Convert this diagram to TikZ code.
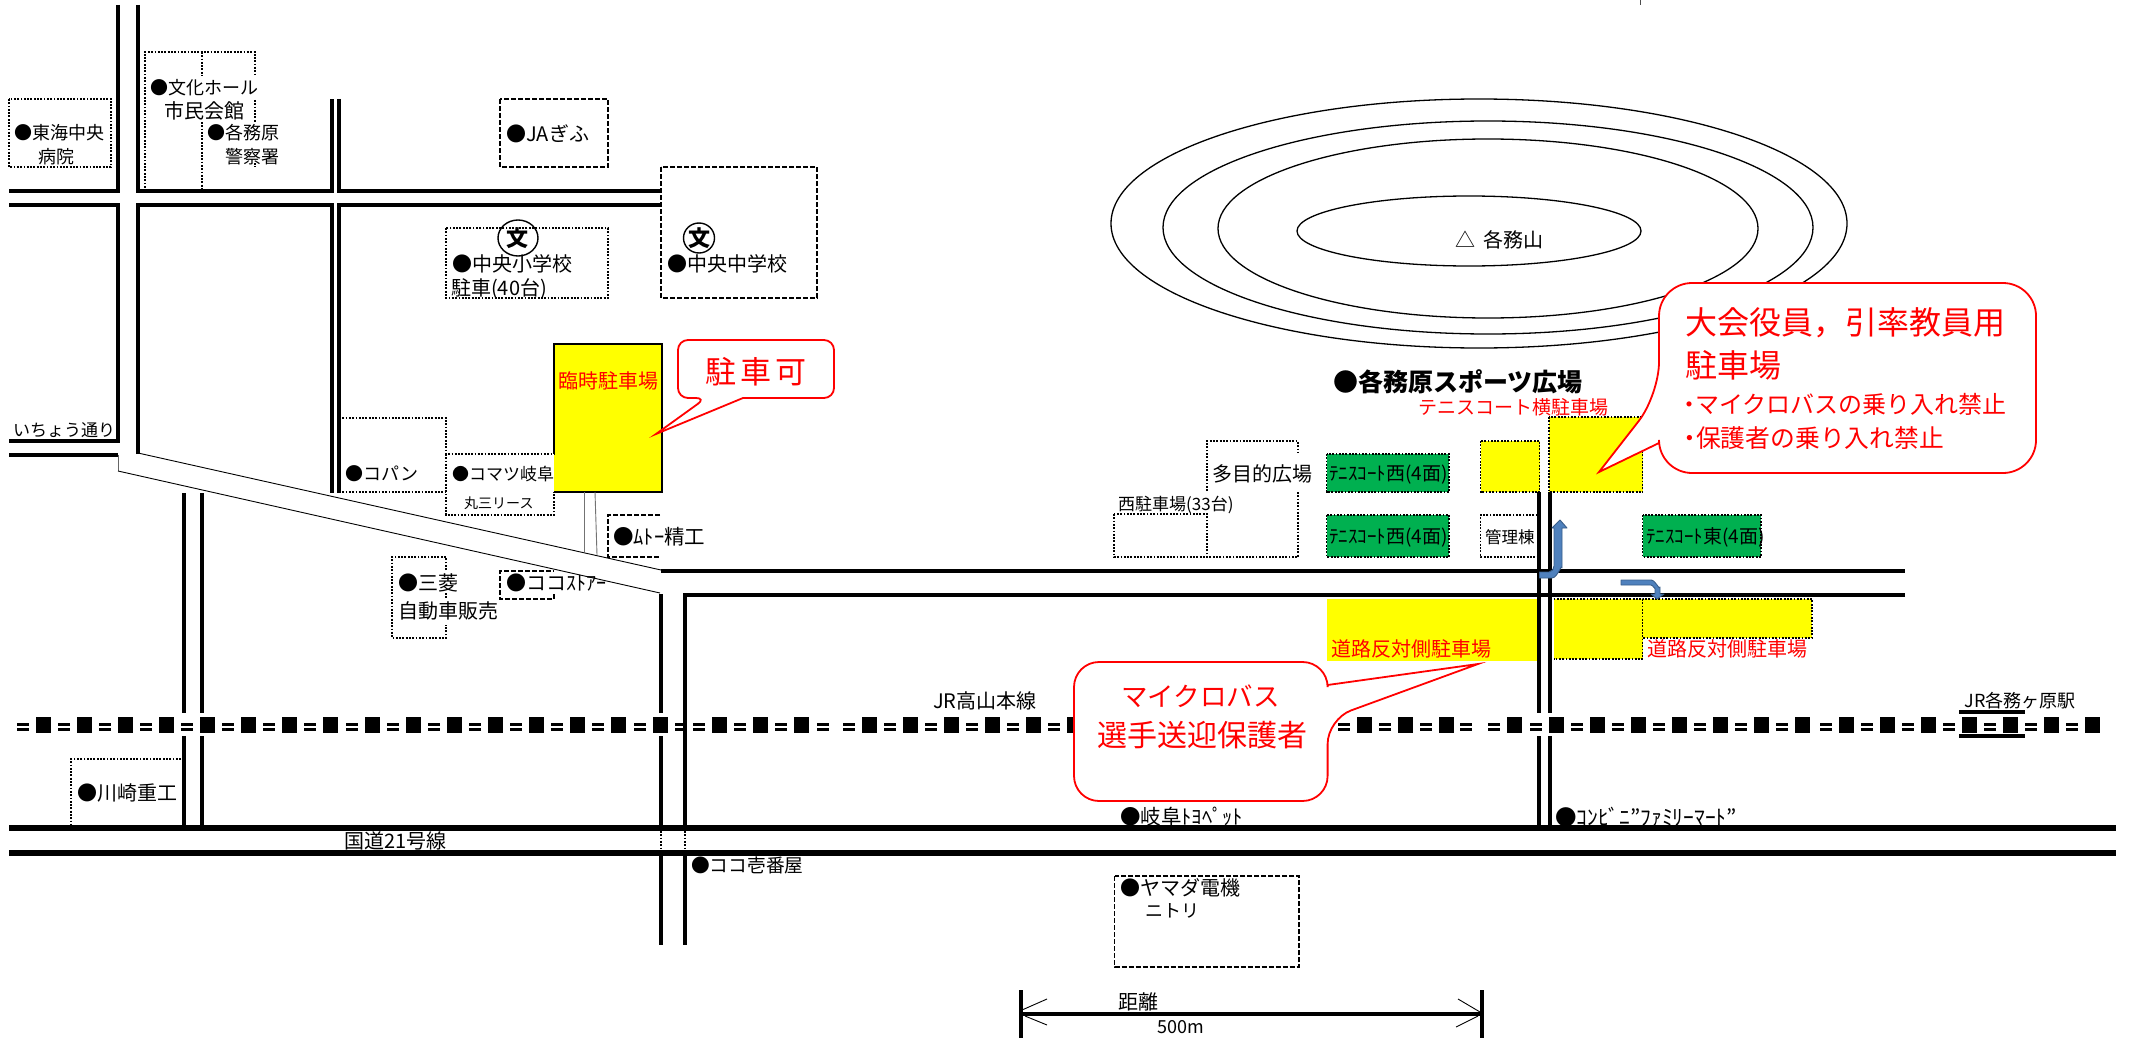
\documentclass[tikz,border=0pt]{standalone}
\usepackage{fontspec}
\setmainfont{Noto Sans CJK JP}
\definecolor{rd}{HTML}{FF0000}
\definecolor{yl}{HTML}{FFFF00}
\definecolor{gn}{HTML}{00B050}
\definecolor{bl}{HTML}{4F81BD}
\definecolor{bld}{HTML}{385D8A}
\tikzset{
  road/.style={line width=4pt,line cap=butt},
  bigroad/.style={line width=6pt},
  dot/.style={line width=1.6pt,dash pattern=on 1.8pt off 1.5pt},
  dsh/.style={line width=1.6pt,dash pattern=on 5pt off 2pt},
  thin1/.style={line width=0.9pt},
  hill/.style={line width=1.3pt},
  callout/.style={draw=rd,fill=white,line width=1.8pt},
  lab/.style={anchor=west,inner sep=0pt},
  fz/.style={font=\fontsize{#1}{#1}\selectfont,text height={0.88*#1 pt},text depth={0.12*#1 pt}},
  fzb/.style={font=\bfseries\fontsize{#1}{#1}\selectfont,text height={0.88*#1 pt},text depth={0.12*#1 pt}},
  red/.style={text=rd},
  blarrow/.style={fill=bl,draw=bld,line width=0.9pt}
}
\newcommand\TX[5][]{\node[lab,fz=#2,#1] (#3) at (#4) {#5};}
\begin{document}
\begin{tikzpicture}[x=1pt,y=-1pt]
\useasboundingbox (0,0) rectangle (2130,1038);
\fill[white] (0,0) rectangle (2130,1038);
% tick at top
\draw[thin1,black!70] (1640,0) -- (1640,5);
% hills
\draw[hill] (1479,223.5) ellipse [x radius=368,y radius=124.5];
\draw[hill] (1488,227.5) ellipse [x radius=325,y radius=106.5];
\draw[hill] (1488,228.5) ellipse [x radius=270,y radius=89.5];
\draw[hill] (1469,231) ellipse [x radius=172,y radius=35];
% yellow areas
\fill[yl] (554,344) rectangle (662,492);
\draw[line width=1.3pt] (554,454) -- (554,344) -- (662,344) -- (662,492) -- (554,492);
\fill[yl] (1549,417) rectangle (1642.6,492);
\draw[dot] (1549,417) rectangle (1642.6,492);
\fill[yl] (1480.5,441) rectangle (1539.5,492);
\draw[dot] (1480.5,441) rectangle (1539.5,492);
\fill[yl] (1326.5,599) rectangle (1539,661);
\fill[yl] (1553.5,599) rectangle (1642.6,659);
\draw[dot] (1553.5,599) -- (1642.6,599) -- (1642.6,659) -- (1553.5,659);
\fill[yl] (1642.6,599) rectangle (1812,638);
\draw[dot] (1642.6,599) rectangle (1812,638);
% green courts
\fill[gn] (1326.5,454) rectangle (1449,492);
\draw[dot] (1326.5,454) rectangle (1449,492);
\fill[gn] (1326.5,515) rectangle (1449,557);
\draw[dot] (1326.5,515) rectangle (1449,557);
\fill[gn] (1642.6,515) rectangle (1761,557);
\draw[dot] (1642.6,515) rectangle (1761,557);
% upper-left roads
\draw[road] (118,5) -- (118,191) -- (9,191);
\draw[road] (138,5) -- (138,191) -- (332,191) -- (332,99);
\draw[road] (339,99) -- (339,191) -- (661,191);
\draw[road] (9,205) -- (118,205) -- (118,443);
\draw[road] (9,441) -- (118,441);
\draw[road] (9,455) -- (118,455);
\draw[road] (138,454) -- (138,205) -- (332,205) -- (332,493);
\draw[road] (339,493) -- (339,205) -- (661,205);
% diagonal road
\draw[thin1,black!60] (118,455) -- (118,471);
\draw[thin1] (118,471) -- (660,593);
\draw[thin1] (138,453) -- (661,570);
\draw[thin1,black!55] (584,492) -- (584,552);
\draw[thin1,black!55] (595,492) -- (597,555);
% lower roads
\draw[road] (184,493) -- (184,713) (184,736) -- (184,825);
\draw[road] (202,493) -- (202,713) (202,736) -- (202,825);
\draw[road] (661,594) -- (661,713) (661,736) -- (661,825);
\draw[road] (1905,595) -- (685,595) -- (685,825);
\draw[road] (661,571) -- (1905,571);
\draw[dot] (661,831) -- (661,851) (685,831) -- (685,851);
\draw[road] (661,856) -- (661,945) (685,856) -- (685,945);
\draw[road] (1539,492) -- (1539,713) (1539,736) -- (1539,825);
\draw[road] (1550,492) -- (1550,713) (1550,736) -- (1550,825);
\draw[bigroad] (9,828) -- (2116,828);
\draw[bigroad] (9,853) -- (2116,853);
% railway
\foreach \x in {36,77,118,159,200,241,282,323,365,406,447,488,529,570,611,653,712,753,794,862,903,944,985,1026,1067,1314,1357,1398,1439,1507,1549,1590,1631,1672,1713,1754,1795,1839,1880,1921,1962,2003,2044,2085}{
  \fill (\x,717.3) rectangle ++(15,15.4);
  \fill (\x-19,723) rectangle ++(12,2.7);
  \fill (\x-19,728) rectangle ++(12,2.7);
}
\foreach \x in {675,817,1460}{
  \fill (\x,723) rectangle ++(12,2.7);
  \fill (\x,728) rectangle ++(12,2.7);
}
\draw[road] (1959,712) -- (2024.5,712) (1959,736) -- (2024.5,736);
% building outlines
\draw[dot] (9,99) rectangle (111,167);
\draw[dot] (145,191) -- (145,52) -- (255,52) -- (255,76);
\draw[dot] (202,52) -- (202,76) (202,122) -- (202,191);
\draw[dot] (255,100) -- (255,122) (255,163) -- (255,167);
\draw[dsh] (500,99) rectangle (608,167);
\draw[dot] (446,228) rectangle (608,298);
\draw[dsh] (661,167) rectangle (817,298);
\draw[dot] (339,418) -- (446,418) -- (446,454) -- (554,454);
\draw[dot] (339,492) -- (446,492);
\draw[dot] (446,454) -- (446,515) -- (554,515) -- (554,492);
\draw[dsh] (660,515) -- (608,515) -- (608,557) -- (660,557);
\draw[dot] (446,570) -- (446,557) -- (392,557) -- (392,638) -- (446,638) -- (446,625);
\draw[dot] (446,593) -- (446,598);
\draw[dsh] (554,594) -- (554,599) -- (500,599) -- (500,571) -- (554,571);
\draw[dot] (181,759) -- (71,759) -- (71,825);
\draw[dot] (1207,491) -- (1207,441) -- (1298,441) -- (1298,453);
\draw[dot] (1298,492) -- (1298,557) -- (1207,557);
\draw[dot] (1114,514) rectangle (1207,557);
\draw[dot] (1537.5,515) -- (1480.5,515) -- (1480.5,557) -- (1537.5,557);
\draw[dsh] (1114.6,876) rectangle (1299,967);
% school marks
\draw[line width=1.4pt] (518,238) ellipse [x radius=20,y radius=18];
\draw[line width=1.4pt] (699,238) ellipse [x radius=15.5,y radius=15];
\node[fzb=22,inner sep=0pt] (bun1) at (517,238) {文};
\node[fzb=22,inner sep=0pt] (bun2) at (699,238) {文};
% scale
\draw[road] (1021,990) -- (1021,1038);
\draw[road] (1482,990) -- (1482,1038);
\draw[road] (1021,1014) -- (1482,1014);
\draw[thin1] (1047,999) -- (1022,1010) (1047,1025) -- (1025,1016);
\draw[thin1] (1458,999) -- (1480,1012) (1456,1027) -- (1478,1016);
% blue arrows
\draw[blarrow,line join=round] (1539.5,572) -- (1549,572) to[out=0,in=-90] (1554,566) -- (1554,528) -- (1552,528) -- (1560,520) -- (1567,528) -- (1562,528) -- (1562,568) to[out=90,in=0] (1552,578) -- (1539.5,578) -- cycle;
\draw[blarrow,line join=round] (1621,580) -- (1651,580) to[out=0,in=-90] (1660,587) -- (1660,594) -- (1664,594) -- (1657,599) -- (1651,594) -- (1655,594) -- (1655,588) to[out=-90,in=0] (1651,585) -- (1621,585) -- cycle;
% labels
\TX{18}{a1}{14,133}{●東海中央}
\TX{18}{a2}{38,157}{病院}
\TX{18}{a3}{150,88}{●文化ホール}
\TX{20}{a4}{164,111}{市民会館}
\TX{18}{a5}{207,133}{●各務原}
\TX{18}{a6}{225,157}{警察署}
\TX{20}{a7}{506,134}{●JAぎふ}
\TX{20}{a8}{452,264}{●中央小学校}
\TX{20}{a9}{451,288}{駐車(40台)}
\TX{20}{a10}{667,264}{●中央中学校}
\TX{17}{a11}{13,430}{いちょう通り}
\TX{18}{a12}{345,474}{●コパン}
\TX{17}{a13}{452,474}{●コマツ岐阜}
\TX{14}{a14}{464,503}{丸三リース}
\TX{20.5}{a15}{613,537}{●ﾑﾄｰ精工}
\TX{20}{a16}{398,583}{●三菱}
\TX{20}{a17}{398,611}{自動車販売}
\TX{20}{a18}{506,583}{●ココｽﾄｱｰ}
\TX{20}{a19}{77,793}{●川崎重工}
\TX{20}{a20}{344,841}{国道21号線}
\TX{18.7}{a21}{691,865}{●ココ壱番屋}
\TX{20}{a22}{933,701}{JR高山本線}
\TX{20}{a23}{1455,240}{△\hspace{8pt}各務山}
\TX[fzb=25]{25}{a24}{1333,382}{●各務原スポーツ広場}
\TX[red]{19}{a25}{1418,407}{テニスコート横駐車場}
\TX{20}{a26}{1212,474}{多目的広場}
\TX{17}{a27}{1118,504}{西駐車場(33台)}
\TX{19}{a28}{1329,473}{ﾃﾆｽｺｰﾄ西(4面)}
\TX{19}{a29}{1329,536}{ﾃﾆｽｺｰﾄ西(4面)}
\TX{19}{a30}{1646,536}{ﾃﾆｽｺｰﾄ東(4面)}
\TX{16.5}{a31}{1485,537}{管理棟}
\TX[red]{20}{a32}{1331,649}{道路反対側駐車場}
\TX[red]{20}{a33}{1647,649}{道路反対側駐車場}
\TX[red]{20}{a34}{558,381}{臨時駐車場}
\TX{18}{a35}{1964.5,701}{JR各務ヶ原駅}
\TX{20.5}{a36}{1120,817}{●岐阜ﾄﾖﾍﾟｯﾄ}
\TX{21.5}{a37}{1555,817}{●ｺﾝﾋﾞﾆ”ﾌｧﾐﾘｰﾏｰﾄ”}
\TX{20}{a38}{1120,888}{●ヤマダ電機}
\TX{18}{a39}{1145,911}{ニトリ}
\TX{20}{a40}{1118,1002}{距離}
\TX{18}{a41}{1157,1027}{500m}
% callouts
\path[callout] (743,398) [rounded corners=10pt] -- (834,398) -- (834,340) -- (678,340) -- (678,398) -- (706,398) [sharp corners] -- (656,434) -- cycle;
\TX[red]{31}{c1}{705,372}{駐\kern4pt 車\kern4pt 可}
\path[callout] (1659,443) [rounded corners=33pt] -- (1659,473) -- (2036,473) -- (2036,283) -- (1659,283) -- (1659,395) [sharp corners] -- (1599,472) -- cycle;
\TX[red]{32}{c2}{1685,322}{大会役員，引率教員用}
\TX[red]{32}{c3}{1685,365}{駐車場}
\TX[red]{24}{c4}{1686,404}{\kern-9pt・\kern-6pt マイクロバスの乗り入れ禁止}
\TX[red]{24.8}{c5}{1686,438}{\kern-9pt・\kern-6pt 保護者の乗り入れ禁止}
\path[callout] (1327.6,685) [rounded corners=25pt] -- (1327.6,662) -- (1074,662) -- (1074,801) -- (1327.6,801) -- (1327.6,719) [sharp corners] -- (1478,664) -- cycle;
\TX[red]{26.5}{c6}{1121,696}{マイクロバス}
\TX[red]{30}{c7}{1097.5,735}{選手送迎保護者}
\end{tikzpicture}
\end{document}
